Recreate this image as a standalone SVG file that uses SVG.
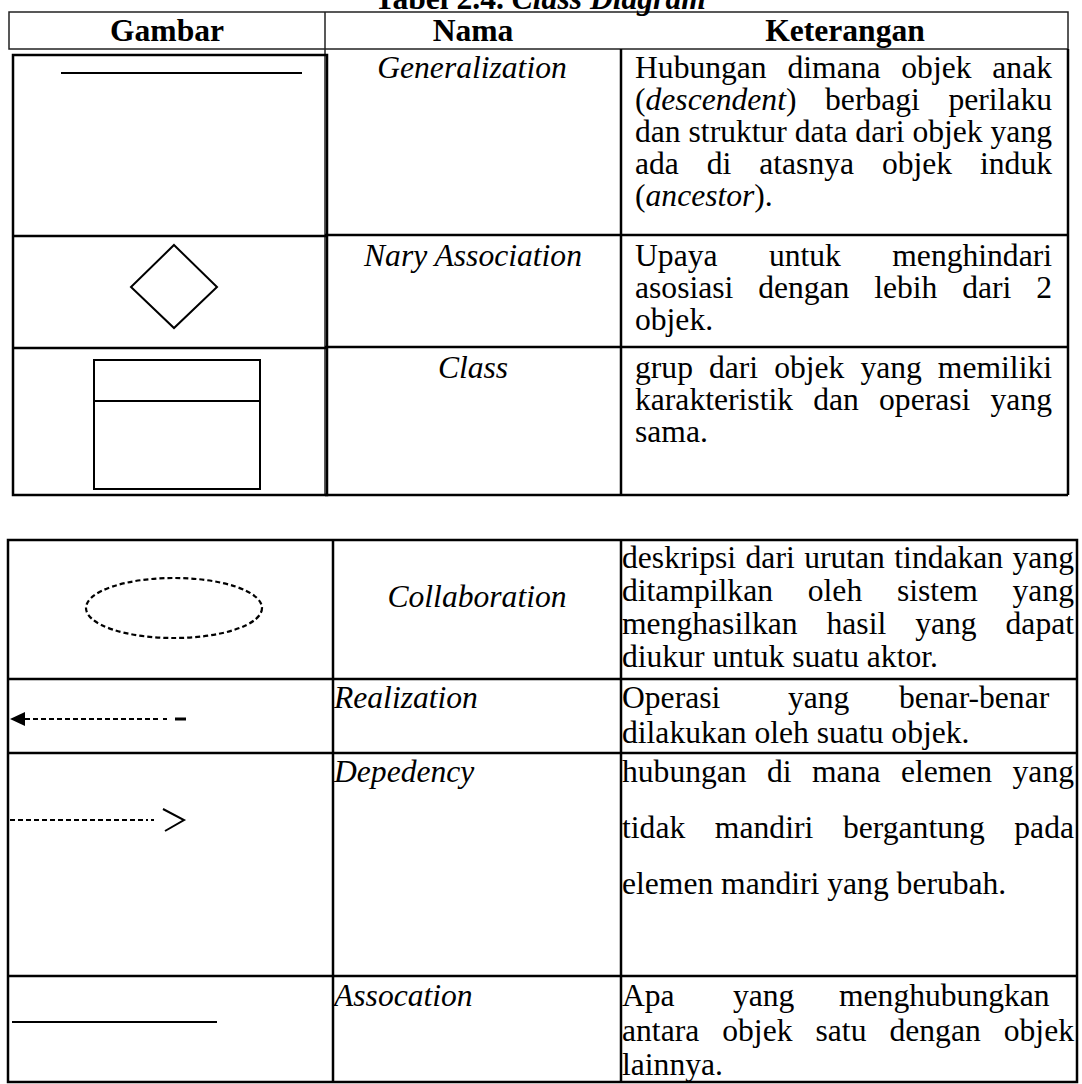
<svg xmlns="http://www.w3.org/2000/svg" width="1082" height="1084" viewBox="0 0 1082 1084">
  <style>
    .t { font-family: "Liberation Serif", "Times New Roman", serif; font-size: 31.6px; fill: #000; }
    .i { font-style: italic; }
    .b { font-weight: bold; }
    .c { text-anchor: middle; }
    .thin { stroke: #222; stroke-width: 1.5; fill: none; }
    .rule { stroke: #000; stroke-width: 2.5; fill: none; }
    .sym { stroke: #000; stroke-width: 2; fill: none; }
    .dash { stroke: #000; stroke-width: 2.2; fill: none; stroke-dasharray: 5 3; }
  </style>
  <rect width="1082" height="1084" fill="#fff"/>

  <!-- table 1: grid -->
  <g id="table1-grid">
    <rect class="thin" x="9" y="12" width="1059" height="37"/>
    <line class="thin" x1="325" y1="12" x2="325" y2="495"/>
    <line class="rule" x1="621" y1="49" x2="621" y2="495"/>
    <line class="rule" x1="1068" y1="49" x2="1068" y2="495"/>
    <line class="rule" x1="325" y1="235" x2="1068" y2="235"/>
    <line class="rule" x1="325" y1="347" x2="1068" y2="347"/>
    <line class="rule" x1="325" y1="495" x2="1068" y2="495"/>
    <rect class="rule" x="13" y="55" width="314" height="440"/>
    <line class="rule" x1="13" y1="236" x2="327" y2="236"/>
    <line class="rule" x1="13" y1="348" x2="327" y2="348"/>
  </g>

  <!-- table 2: grid -->
  <g id="table2-grid">
    <rect class="rule" x="8" y="540" width="1069" height="542"/>
    <line class="rule" x1="333" y1="540" x2="333" y2="1082"/>
    <line class="rule" x1="621" y1="540" x2="621" y2="1082"/>
    <line class="rule" x1="8" y1="679" x2="1077" y2="679"/>
    <line class="rule" x1="8" y1="753" x2="1077" y2="753"/>
    <line class="rule" x1="8" y1="976" x2="1077" y2="976"/>
  </g>

  <!-- symbols drawn in the Gambar column -->
  <g id="generalization">
    <line class="sym" x1="61" y1="73" x2="302" y2="73"/>
  </g>
  <g id="nary-association">
    <polygon class="sym" points="174,245 217,287 174,328 131,287"/>
  </g>
  <g id="class">
    <rect class="sym" x="94" y="360" width="166" height="129"/>
    <line class="sym" x1="94" y1="401" x2="260" y2="401"/>
  </g>
  <g id="collaboration">
    <ellipse class="dash" cx="174" cy="608" rx="88" ry="30"/>
  </g>
  <g id="connectors">
    <g id="realization">
      <polygon points="10,719 25,712 25,726" fill="#000"/>
      <line class="dash" x1="25" y1="719" x2="160" y2="719"/>
      <line class="sym" x1="163" y1="719" x2="167" y2="719"/>
      <line stroke="#000" stroke-width="3" x1="175" y1="719" x2="186" y2="719"/>
    </g>
    <g id="dependency">
      <line class="dash" x1="10" y1="820" x2="148" y2="820"/>
      <line class="sym" x1="151" y1="820" x2="154" y2="820"/>
      <polyline class="sym" points="163,809 184,820 165,831"/>
    </g>
    <g id="association">
      <line class="sym" x1="12" y1="1022" x2="217" y2="1022"/>
    </g>
  </g>

  <g id="labels">
    <text class="t b c" x="540" y="9">Tabel 2.4. <tspan class="i">Class Diagram</tspan></text>

    <text class="t b c" x="167" y="41">Gambar</text>
    <text class="t b c" x="473" y="41">Nama</text>
    <text class="t b c" x="845" y="41">Keterangan</text>

    <!-- table 1, row 1 -->
    <text class="t i c" x="472" y="78">Generalization</text>
    <text class="t" x="635" y="78" word-spacing="12.9" textLength="417" lengthAdjust="spacing">Hubungan dimana objek anak</text>
    <text class="t" x="635" y="110" word-spacing="20.7" textLength="417" lengthAdjust="spacing">(<tspan class="i">descendent</tspan>) berbagi perilaku</text>
    <text class="t" x="635" y="142" textLength="417" lengthAdjust="spacing">dan struktur data dari objek yang</text>
    <text class="t" x="635" y="174" word-spacing="20" textLength="417" lengthAdjust="spacing">ada di atasnya objek induk</text>
    <text class="t" x="635" y="206">(<tspan class="i">ancestor</tspan>).</text>

    <!-- table 1, row 2 -->
    <text class="t i c" x="473" y="266">Nary Association</text>
    <text class="t" x="635" y="266" word-spacing="43.5" textLength="417" lengthAdjust="spacing">Upaya untuk menghindari</text>
    <text class="t" x="635" y="298" word-spacing="16.9" textLength="417" lengthAdjust="spacing">asosiasi dengan lebih dari 2</text>
    <text class="t" x="635" y="330">objek.</text>

    <!-- table 1, row 3 -->
    <text class="t i c" x="473" y="378">Class</text>
    <text class="t" x="635" y="378" word-spacing="8.1" textLength="417" lengthAdjust="spacing">grup dari objek yang memiliki</text>
    <text class="t" x="635" y="410" word-spacing="12.3" textLength="417" lengthAdjust="spacing">karakteristik dan operasi yang</text>
    <text class="t" x="635" y="442">sama.</text>

    <!-- table 2, row 1 -->
    <text class="t i c" x="477" y="607">Collaboration</text>
    <text class="t" x="622" y="568" word-spacing="1.5" textLength="452" lengthAdjust="spacing">deskripsi dari urutan tindakan yang</text>
    <text class="t" x="622" y="601" word-spacing="26.9" textLength="452" lengthAdjust="spacing">ditampilkan oleh sistem yang</text>
    <text class="t" x="622" y="634" word-spacing="21" textLength="452" lengthAdjust="spacing">menghasilkan hasil yang dapat</text>
    <text class="t" x="622" y="667">diukur untuk suatu aktor.</text>

    <!-- table 2, row 2 -->
    <text class="t i" x="334" y="708">Realization</text>
    <text class="t" x="622" y="708">Operasi</text>
    <text class="t" x="788" y="708">yang</text>
    <text class="t" x="899" y="708">benar-benar</text>
    <text class="t" x="622" y="743">dilakukan oleh suatu objek.</text>

    <!-- table 2, row 3 -->
    <text class="t i" x="334" y="782">Depedency</text>
    <text class="t" x="622" y="782" word-spacing="12.5" textLength="452" lengthAdjust="spacing">hubungan di mana elemen yang</text>
    <text class="t" x="622" y="838" word-spacing="21.6" textLength="452" lengthAdjust="spacing">tidak mandiri bergantung pada</text>
    <text class="t" x="622" y="894">elemen mandiri yang berubah.</text>

    <!-- table 2, row 4 -->
    <text class="t i" x="334" y="1006">Assocation</text>
    <text class="t" x="622" y="1006">Apa</text>
    <text class="t" x="733" y="1006">yang</text>
    <text class="t" x="839" y="1006">menghubungkan</text>
    <text class="t" x="622" y="1041" word-spacing="15.1" textLength="452" lengthAdjust="spacing">antara objek satu dengan objek</text>
    <text class="t" x="622" y="1075">lainnya.</text>
  </g>
</svg>
